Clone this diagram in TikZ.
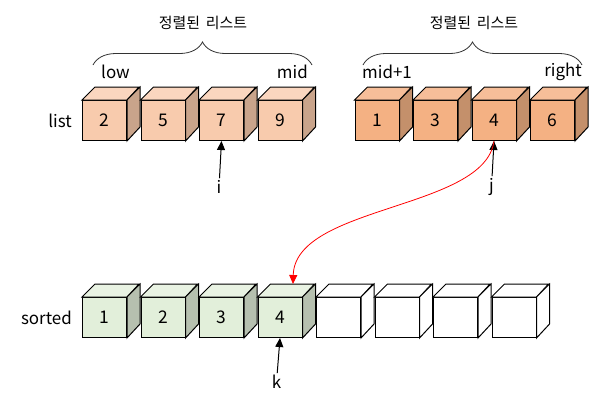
\documentclass[tikz,border=0pt]{standalone}
\usepackage{fontspec}
\setmainfont{Noto Sans CJK KR}
\usetikzlibrary{positioning,arrows.meta,decorations.pathreplacing}

\definecolor{leftfront}{HTML}{F8CBAD}
\definecolor{lefttop}{HTML}{FAD6BF}
\definecolor{leftside}{HTML}{C9A48B}
\definecolor{rightfront}{HTML}{F4B183}
\definecolor{righttop}{HTML}{F6BE99}
\definecolor{rightside}{HTML}{C4906B}
\definecolor{greenfront}{HTML}{E2EFDA}
\definecolor{greentop}{HTML}{E9F3E3}
\definecolor{greenside}{HTML}{B6C0AF}
\definecolor{whitefront}{HTML}{FFFFFF}
\definecolor{whitetop}{HTML}{FFFFFF}
\definecolor{whiteside}{HTML}{FFFFFF}

\begin{document}
\begin{tikzpicture}[
  x=1bp, y=-1bp,
  node distance=13.5bp,
  cube/.style={rectangle, draw, line width=1bp, fill=#1front, minimum width=44bp, minimum height=40bp, inner sep=0pt, font=\fontsize{17.5}{20}\selectfont},
  lbl/.style={inner sep=2bp, font=\fontsize{17}{20}\selectfont},
  title/.style={font=\fontsize{15}{17}\selectfont},
  bracket/.style={decorate, decoration={brace, amplitude=23bp}, line width=0.8bp, draw=black!80},
  arrow/.style={-{Triangle[length=9bp, width=8bp]}, line width=1bp}
]
  \useasboundingbox (0,0) rectangle (593,408);

  % list, left half
  \node[cube=left, anchor=north west] (l1) at (82,100) {2};
  \node[cube=left, right=of l1] (l2) {5};
  \node[cube=left, right=of l2] (l3) {7};
  \node[cube=left, right=of l3] (l4) {9};

  % list, right half
  \node[cube=right, anchor=north west] (r1) at (354.5,100) {1};
  \node[cube=right, right=of r1] (r2) {3};
  \node[cube=right, right=of r2] (r3) {4};
  \node[cube=right, right=of r3] (r4) {6};

  % sorted
  \node[cube=green, anchor=north west] (s1) at (82,297) {1};
  \node[cube=green, right=of s1] (s2) {2};
  \node[cube=green, right=of s2] (s3) {3};
  \node[cube=green, right=of s3] (s4) {4};
  \node[cube=white, right=of s4] (s5) {};
  \node[cube=white, right=of s5] (s6) {};
  \node[cube=white, right=of s6] (s7) {};
  \node[cube=white, right=of s7] (s8) {};

  % top and side faces
  \foreach \n/\c in {l1/left, l2/left, l3/left, l4/left, r1/right, r2/right, r3/right, r4/right,
                     s1/green, s2/green, s3/green, s4/green, s5/white, s6/white, s7/white, s8/white} {
    \draw[line width=1bp, fill=\c top] (\n.north west) -- ++(13,-13) -- ++(44,0) -- (\n.north east) -- cycle;
    \draw[line width=1bp, fill=\c side] (\n.north east) -- ++(13,-13) -- ++(0,40) -- (\n.south east) -- cycle;
  }

  \node[lbl, left=8bp of l1] (list) {list};
  \node[lbl, left=8bp of s1] (sorted) {sorted};

  \node[lbl, anchor=west] (low) at (99,72) {low};
  \node[lbl, anchor=east] (mid) at (310,72) {mid};
  \node[lbl, anchor=west] (mid1) at (360,72) {mid+1};
  \node[lbl, anchor=east] (right) at (584,72) {right};

  \draw[bracket] (93,65) -- (312,65);
  \draw[bracket] (363,65) -- (582,65);
  \node[title] (ltitle) at (203,23) {정렬된\hspace{0.4em}리스트};
  \node[title] (rtitle) at (474,23) {정렬된\hspace{0.4em}리스트};

  \node[lbl] (i) at (219,187) {i};
  \node[lbl] (j) at (491.5,187) {j};
  \node[lbl] (k) at (276.5,382) {k};
  \draw[arrow] (i) -- (l3.south);
  \draw[arrow] (j) -- (r3.south);
  \draw[arrow] (k) -- (s4.south);

  \draw[arrow, red, line width=0.8bp] (r3.south) .. controls (485,210) and (295,205) .. ([shift={(13,-13)}]s4.north);
\end{tikzpicture}
\end{document}
